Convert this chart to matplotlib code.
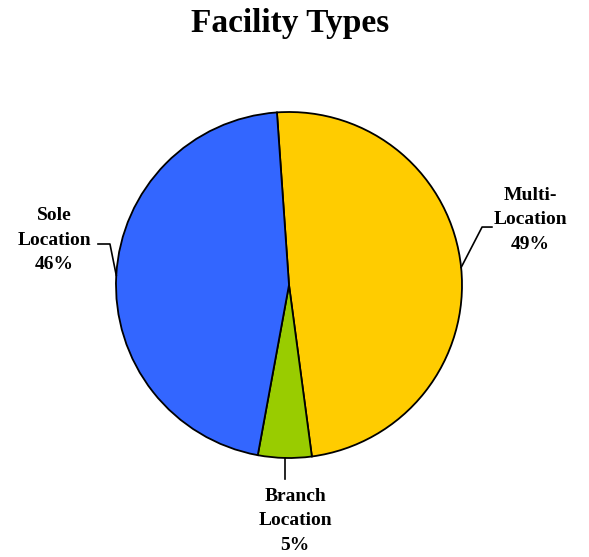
import numpy as np
import matplotlib
matplotlib.use("Agg")
import matplotlib.pyplot as plt

labels = ["Multi-\nLocation", "Branch\nLocation", "Sole\nLocation"]
shares = [49, 5, 46]
colors = ["#FFCC00", "#99CC00", "#3366FF"]

# label text positions (data units, pie radius = 1) and leader line elbows
text_pos = [(1.393, 0.376), (0.035, -1.364), (-1.358, 0.26)]
elbows = [[(1.116, 0.335), (1.173, 0.335)],
          [(-0.017, -1.121)],
          [(-1.035, 0.237), (-1.104, 0.237)]]

plt.rcParams["font.family"] = ["Liberation Serif", "DejaVu Serif"]

fig = plt.figure(figsize=(5.89, 5.57), dpi=100)
ax = fig.add_axes([116 / 589, 99 / 557, 346 / 589, 346 / 557])

wedges, _ = ax.pie(shares, colors=colors, startangle=94, counterclock=False,
                   radius=1, wedgeprops=dict(edgecolor="black", linewidth=1.3))
ax.set_xlim(-1, 1)
ax.set_ylim(-1, 1)
ax.set_aspect("equal")
ax.axis("off")

for w, lab, val, tp, el in zip(wedges, labels, shares, text_pos, elbows):
    mid = np.deg2rad((w.theta1 + w.theta2) / 2)
    px, py = np.cos(mid), np.sin(mid)
    xs = [px] + [p[0] for p in el]
    ys = [py] + [p[1] for p in el]
    if len(el) == 1:
        xs[1] = px
    ax.plot(xs, ys, color="black", linewidth=1.2, clip_on=False)
    ax.text(tp[0], tp[1], "%s\n%d%%" % (lab, val), ha="center", va="center",
            fontsize=14, fontweight="bold", linespacing=1.55, clip_on=False)

fig.text(0.493, 0.958, "Facility Types", ha="center", va="center",
         fontsize=24, fontweight="bold")

fig.savefig("out.png", dpi=100)
